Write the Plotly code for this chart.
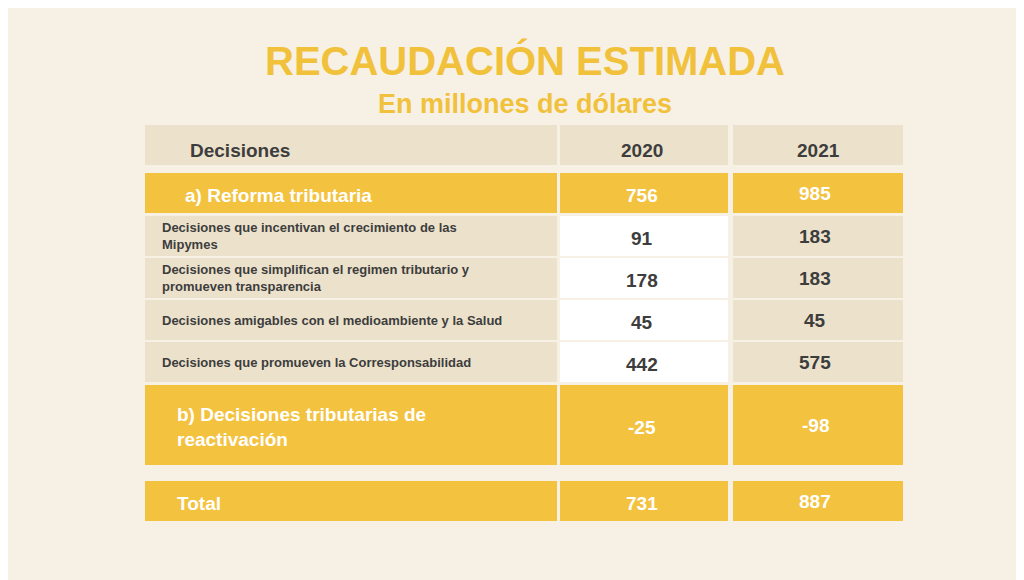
import plotly.graph_objects as go

title = "RECAUDACIÓN ESTIMADA"
subtitle = "En millones de dólares"
columns = ["Decisiones", "2020", "2021"]
rows = [
    "a) Reforma tributaria",
    "Decisiones que incentivan el crecimiento de las<br>Mipymes",
    "Decisiones que simplifican el regimen tributario y<br>promueven transparencia",
    "Decisiones amigables con el medioambiente y la Salud",
    "Decisiones que promueven la Corresponsabilidad",
    "b) Decisiones tributarias de<br>reactivación",
    "Total",
]
values_2020 = [756, 91, 178, 45, 442, -25, 731]
values_2021 = [985, 183, 183, 45, 575, -98, 887]
row_kind = ["main", "sub", "sub", "sub", "sub", "main", "main"]

# layout (pixel space)
row_top = [173, 216, 258, 300, 342, 385, 481]
row_bot = [213, 256, 298, 340, 382, 465, 521]
col_x = [(145, 557), (560, 728), (733, 903)]
YEL = "#f3c23f"
BEIGE = "#ece2cc"
DARK = "#3d3d3d"

fig = go.Figure()
shapes, ann = [], []

def rect(x0, x1, y0, y1, color):
    shapes.append(dict(type="rect", x0=x0, x1=x1, y0=y0, y1=y1, fillcolor=color,
                       line=dict(width=0), layer="below"))

# header
for (x0, x1) in col_x:
    rect(x0, x1, 125, 165, BEIGE)
ann.append(dict(x=188, y=150, text="<b>Decisiones</b>", xanchor="left", font=dict(size=19, color=DARK)))
ann.append(dict(x=642, y=150, text="<b>2020</b>", font=dict(size=19, color=DARK)))
ann.append(dict(x=818, y=150, text="<b>2021</b>", font=dict(size=19, color=DARK)))

for i, label in enumerate(rows):
    y0, y1 = row_top[i], row_bot[i]
    ym = (y0 + y1) / 2
    main = row_kind[i] == "main"
    colors = [YEL, YEL, YEL] if main else [BEIGE, "#ffffff", BEIGE]
    for (x0, x1), c in zip(col_x, colors):
        rect(x0, x1, y0, y1, c)
    tc = "white" if main else DARK
    if main:
        lx = 183 if i == 0 else 175
        ann.append(dict(x=lx, y=ym + 2, text="<b>%s</b>" % label, xanchor="left", align="left",
                        font=dict(size=19, color=tc)))
    else:
        ann.append(dict(x=160, y=ym, text="<b>%s</b>" % label, xanchor="left", align="left",
                        font=dict(size=13, color=tc)))
    ann.append(dict(x=642, y=ym + 2, text="<b>%d</b>" % values_2020[i], font=dict(size=19, color=tc)))
    ann.append(dict(x=815, y=ym, text="<b>%d</b>" % values_2021[i], font=dict(size=19, color=tc)))

ann.append(dict(x=525, y=60, text="<b>%s</b>" % title, font=dict(size=40, color="#f1c13c")))
ann.append(dict(x=525, y=104, text="<b>%s</b>" % subtitle, font=dict(size=27, color="#f1c13c")))
for a in ann:
    a.update(xref="x", yref="y", showarrow=False)
    a["font"]["family"] = "Liberation Sans, Arial"

# the page adds an 8px body margin, so the plot area starts at pixel 8
fig.update_layout(
    width=1016, height=572, margin=dict(l=0, r=0, t=0, b=0),
    paper_bgcolor="#f6f1e4", plot_bgcolor="#f6f1e4",
    xaxis=dict(range=[8, 1024], visible=False, fixedrange=True),
    yaxis=dict(range=[580, 8], visible=False, fixedrange=True),
    shapes=shapes, annotations=ann, showlegend=False,
)
fig.write_html("out.html")
